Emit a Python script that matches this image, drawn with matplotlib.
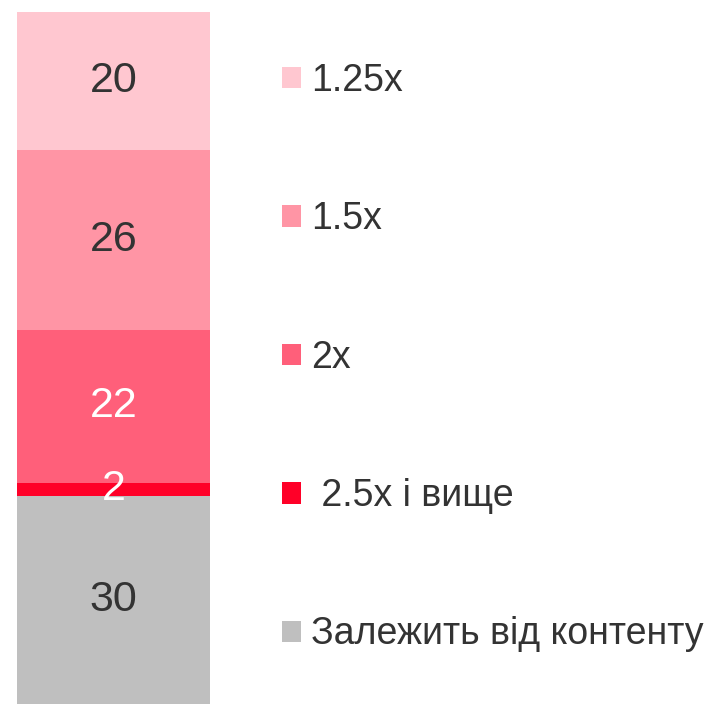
import matplotlib.pyplot as plt

plt.rcParams['font.family'] = ['Liberation Sans', 'DejaVu Sans']

labels = ['Залежить від контенту', ' 2.5x і вище', '2x', '1.5x', '1.25x']
values = [30, 2, 22, 26, 20]
colors = ['#bfbfbf', '#ff0028', '#ff5f7a', '#ff95a5', '#ffc7d0']
text_colors = ['#333333', 'white', 'white', '#333333', '#333333']

fig = plt.figure(figsize=(7.05, 7.04), dpi=100)
ax = fig.add_axes([17 / 705, 0, 193 / 705, 692 / 704])

bottom = 0
for lab, v, c, tc in zip(labels, values, colors, text_colors):
    ax.bar(0, v, width=1, bottom=bottom, color=c, label=lab)
    ax.text(0, bottom + v / 2, str(v), ha='center', va='center',
            fontsize=31, color=tc)
    bottom += v

ax.set_xlim(-0.5, 0.5)
ax.set_ylim(0, 100)
ax.axis('off')

h, l = ax.get_legend_handles_labels()
fig.legend(h[::-1], l[::-1], loc='upper left', bbox_to_anchor=(282 / 705, 1 - 63 / 704),
           frameon=False, fontsize=27, labelspacing=2.73, handlelength=0.5,
           handleheight=0.5, handletextpad=0.27, labelcolor='#333333',
           borderpad=0, borderaxespad=0)

fig.savefig('out.png', dpi=100)
